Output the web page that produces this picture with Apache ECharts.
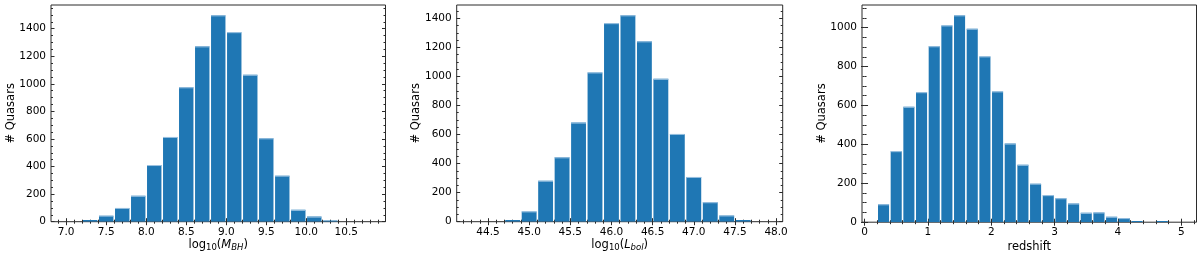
<!DOCTYPE html>
<html>
<head>
<meta charset="utf-8">
<script src="https://cdn.jsdelivr.net/npm/echarts@6/dist/echarts.min.js"></script>
<style>
  html, body { margin: 0; padding: 0; background: #fff; }
  #chart { width: 1200px; height: 253px; }
</style>
</head>
<body>
<div id="chart"></div>
<script>
// ---------- data ----------
// Panel 1: log10(M_BH) histogram, bin edges and counts
const mbhEdges  = [7.0, 7.2, 7.4, 7.6, 7.8, 8.0, 8.2, 8.4, 8.6, 8.8, 9.0, 9.2, 9.4, 9.6, 9.8, 10.0, 10.2, 10.4, 10.6, 10.8];
const mbhCounts = [0, 12, 44, 100, 188, 411, 615, 975, 1272, 1497, 1375, 1066, 605, 334, 86, 37, 5, 0, 0];
const mbhTicks  = [7.0, 7.5, 8.0, 8.5, 9.0, 9.5, 10.0, 10.5];

// Panel 2: log10(L_bol) histogram
const lbolEdges  = [44.3, 44.5, 44.7, 44.9, 45.1, 45.3, 45.5, 45.7, 45.9, 46.1, 46.3, 46.5, 46.7, 46.9, 47.1, 47.3, 47.5, 47.7, 47.9];
const lbolCounts = [0, 0, 12, 71, 282, 443, 682, 1027, 1366, 1420, 1241, 983, 604, 308, 134, 43, 11, 0];
const lbolTicks  = [44.5, 45.0, 45.5, 46.0, 46.5, 47.0, 47.5, 48.0];

// Panel 3: redshift histogram
const zEdges  = [0.2, 0.4, 0.6, 0.8, 1.0, 1.2, 1.4, 1.6, 1.8, 2.0, 2.2, 2.4, 2.6, 2.8, 3.0, 3.2, 3.4, 3.6, 3.8, 4.0, 4.2, 4.4, 4.6, 4.8, 5.0];
const zCounts = [92, 365, 593, 668, 904, 1011, 1063, 994, 852, 672, 404, 295, 198, 139, 123, 96, 48, 50, 28, 21, 6, 0, 3, 0];
const zTicks  = [0, 1, 2, 3, 4, 5];

const countTicksA = [0, 200, 400, 600, 800, 1000, 1200, 1400];
const countTicksB = [0, 200, 400, 600, 800, 1000];

// ---------- layout / style ----------
const FONT = 'DejaVu Sans';
const FRAME = '#2b2b2b';
const BAR = '#1f77b4';
const EDGE = '#9fc4e2';

function minorRange(lo, hi, step) {
  const out = [];
  const k0 = Math.ceil(lo / step - 1e-9), k1 = Math.floor(hi / step + 1e-9);
  for (let k = k0; k <= k1; k++) out.push(Math.round(k * step * 1000) / 1000);
  return out;
}

const panels = [
  { left: 51, width: 334.5, top: 5, height: 216.7,
    edges: mbhEdges, counts: mbhCounts, xTicks: mbhTicks, xmin: 6.81, xmax: 10.99,
    xMinorStep: 0.1, xFmt: v => v.toFixed(1),
    yTicks: countTicksA, ymax: 1572, yMinorStep: 50,
    xName: 'log{sub|10}({it|M}{itsub|BH})', xGap: 16, yGap: 34 },
  { left: 456.7, width: 326, top: 5, height: 216.7,
    edges: lbolEdges, counts: lbolCounts, xTicks: lbolTicks, xmin: 44.12, xmax: 48.08,
    xMinorStep: 0.1, xFmt: v => v.toFixed(1),
    yTicks: countTicksA, ymax: 1491, yMinorStep: 50,
    xName: 'log{sub|10}({it|L}{itsub|bol})', xGap: 16, yGap: 34.5 },
  { left: 862, width: 334.5, top: 5, height: 217.2,
    edges: zEdges, counts: zCounts, xTicks: zTicks, xmin: -0.04, xmax: 5.24,
    xMinorStep: 0.2, xFmt: v => String(v),
    yTicks: countTicksB, ymax: 1116, yMinorStep: 50,
    xName: 'redshift', xGap: 17, yGap: 33.5 }
];

const grid = [], xAxis = [], yAxis = [], series = [];

const nameStyle = {
  fontSize: 11.5, fontFamily: FONT, color: '#000', lineHeight: 15,
  rich: {
    sub:   { fontSize: 8.5, fontFamily: FONT, color: '#000', verticalAlign: 'bottom', lineHeight: 15 },
    it:    { fontSize: 11.5, fontFamily: FONT, color: '#000', fontStyle: 'italic', lineHeight: 15 },
    itsub: { fontSize: 8.5, fontFamily: FONT, color: '#000', fontStyle: 'italic', verticalAlign: 'bottom', lineHeight: 15 }
  }
};

panels.forEach((p, i) => {
  grid.push({ left: p.left, top: p.top, width: p.width, height: p.height,
              outerBoundsMode: 'none', containLabel: false,
              show: true, borderColor: FRAME, borderWidth: 1, backgroundColor: 'transparent' });

  const xMinor = minorRange(p.xmin, p.xmax, p.xMinorStep);
  const yMinor = minorRange(0, p.ymax, p.yMinorStep);
  const xBase = { type: 'value', gridIndex: i, min: p.xmin, max: p.xmax,
                  axisLine: { show: false }, splitLine: { show: false } };
  const yBase = { type: 'value', gridIndex: i, min: 0, max: p.ymax,
                  axisLine: { show: false }, splitLine: { show: false } };
  const tick = (vals, len) => ({ show: true, inside: true, length: len, customValues: vals,
                                 lineStyle: { color: FRAME, width: 1 } });

  const xi = xAxis.length;
  xAxis.push(Object.assign({}, xBase, {
    position: 'bottom',
    axisTick: tick(p.xTicks, 3.5),
    axisLabel: { show: true, customValues: p.xTicks, formatter: p.xFmt, margin: 5,
                 fontSize: 10.5, fontFamily: FONT, color: '#000' },
    name: p.xName, nameLocation: 'middle', nameGap: p.xGap, nameMoveOverlap: false,
    nameTextStyle: Object.assign({ verticalAlign: 'top' }, nameStyle)
  }));
  xAxis.push(Object.assign({}, xBase, { position: 'bottom', axisTick: tick(xMinor, 2), axisLabel: { show: false } }));
  xAxis.push(Object.assign({}, xBase, { position: 'top', axisTick: tick(p.xTicks, 3.5), axisLabel: { show: false } }));
  xAxis.push(Object.assign({}, xBase, { position: 'top', axisTick: tick(xMinor, 2), axisLabel: { show: false } }));

  const yi = yAxis.length;
  yAxis.push(Object.assign({}, yBase, {
    position: 'left',
    axisTick: tick(p.yTicks, 3.5),
    axisLabel: { show: true, customValues: p.yTicks, formatter: v => String(v), margin: 5,
                 fontSize: 10.5, fontFamily: FONT, color: '#000' },
    name: '# Quasars', nameLocation: 'middle', nameGap: p.yGap, nameRotate: 90, nameMoveOverlap: false,
    nameTextStyle: { fontSize: 11.5, fontFamily: FONT, color: '#000' }
  }));
  yAxis.push(Object.assign({}, yBase, { position: 'left', axisTick: tick(yMinor, 2), axisLabel: { show: false } }));
  yAxis.push(Object.assign({}, yBase, { position: 'right', axisTick: tick(p.yTicks, 3.5), axisLabel: { show: false } }));
  yAxis.push(Object.assign({}, yBase, { position: 'right', axisTick: tick(yMinor, 2), axisLabel: { show: false } }));

  const data = p.counts.map((c, k) => [p.edges[k], p.edges[k + 1], c]);
  series.push({
    type: 'custom', xAxisIndex: xi, yAxisIndex: yi,
    encode: { x: [0, 1], y: 2 },
    clip: true,
    data: data,
    renderItem: function (params, api) {
      const c = api.value(2);
      if (!c) return null;
      const p0 = api.coord([api.value(0), c]);
      const p1 = api.coord([api.value(1), 0]);
      const inset = 0.8;
      const x0 = p0[0] + inset, w = p1[0] - p0[0] - 2 * inset;
      const yTop = p0[1], h = Math.max(p1[1] - p0[1], 1.2);
      return {
        type: 'group',
        children: [
          { type: 'rect', shape: { x: x0, y: p1[1] - h, width: w, height: h },
            style: { fill: BAR } },
          { type: 'line', shape: { x1: x0, y1: yTop + 0.5, x2: x0 + w, y2: yTop + 0.5 },
            style: { stroke: EDGE, lineWidth: h > 3 ? 1 : 0 } }
        ]
      };
    }
  });
});

const chart = echarts.init(document.getElementById('chart'), null, { renderer: 'canvas' });
chart.setOption({ animation: false, grid, xAxis, yAxis, series });
</script>
</body>
</html>
